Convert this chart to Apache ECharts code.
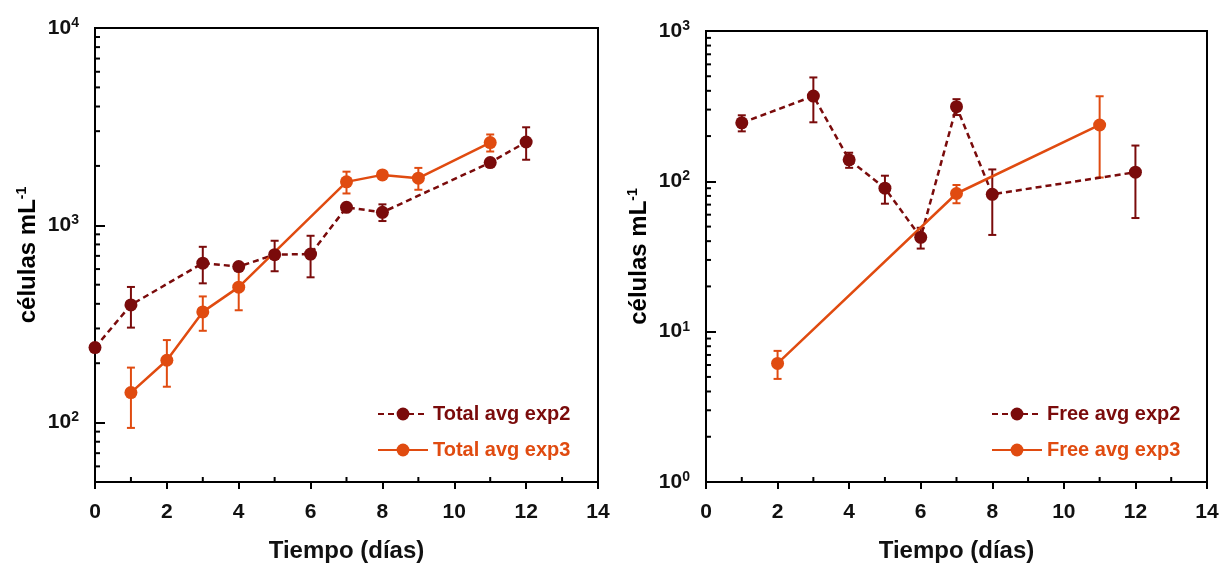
<!DOCTYPE html>
<html>
<head>
<meta charset="utf-8">
<script src="https://cdn.jsdelivr.net/npm/echarts@6/dist/echarts.min.js"></script>
<style>
  html, body { margin: 0; padding: 0; background: #fff; }
  #chart { width: 1226px; height: 570px; }
</style>
</head>
<body>
<div id="chart"></div>
<script>
// Total cell counts (left panel)
const totalDays2 = [0, 1, 3, 4, 5, 6, 7, 8, 11, 12];
const totalExp2 = [240, 395, 643, 618, 710, 715, 1233, 1164, 2080, 2644];
const totalExp2Sd = [0, 92, 135, 15, 125, 170, 30, 113, 70, 495];

const totalDays3 = [1, 2, 3, 4, 7, 8, 9, 11];
const totalExp3 = [142, 207, 364, 486, 1660, 1801, 1734, 2626];
const totalExp3Sd = [48, 55, 72, 115, 210, 40, 220, 260];

// Free cell counts (right panel)
const freeDays2 = [1, 3, 4, 5, 6, 7, 8, 12];
const freeExp2 = [245, 369, 139, 90, 42.4, 314, 82, 115];
const freeExp2Sd = [30, 122, 16, 19, 6.7, 38, 38, 58];

const freeDays3 = [2, 7, 11];
const freeExp3 = [6.15, 83, 237];
const freeExp3Sd = [1.3, 11.5, 131];

// Axis ranges and minor tick values
const xRange = [0, 14];
const xMinorTicks = [1, 3, 5, 7, 9, 11, 13];
const leftYRange = [50, 10000];
const rightYRange = [1, 1000];
const leftYMinor = [60, 70, 80, 90, 200, 300, 400, 500, 600, 700, 800, 900,
                    2000, 3000, 4000, 5000, 6000, 7000, 8000, 9000];
const rightYMinor = [2, 3, 4, 5, 6, 7, 8, 9, 20, 30, 40, 50, 60, 70, 80, 90,
                     200, 300, 400, 500, 600, 700, 800, 900];

const DARK = '#7a0b0b';
const ORANGE = '#e04b10';
const FONT = 'Liberation Sans, Arial, sans-serif';

function zip(xs, ys) { return xs.map((x, i) => [x, ys[i]]); }
function zip3(xs, ys, ss) { return xs.map((x, i) => [x, ys[i], ss[i]]); }

function errorBars(color) {
  return function (params, api) {
    const x = api.value(0), m = api.value(1), s = api.value(2);
    if (!s) return null;
    const top = api.coord([x, m + s]);
    const bot = api.coord([x, m - s]);
    const w = 4;
    const st = { stroke: color, lineWidth: 2 };
    return {
      type: 'group',
      children: [
        { type: 'line', shape: { x1: top[0], y1: top[1], x2: bot[0], y2: bot[1] }, style: st },
        { type: 'line', shape: { x1: top[0] - w, y1: top[1], x2: top[0] + w, y2: top[1] }, style: st },
        { type: 'line', shape: { x1: bot[0] - w, y1: bot[1], x2: bot[0] + w, y2: bot[1] }, style: st }
      ]
    };
  };
}

// Inward minor ticks on the log y axis and on the x axis
function minorTicks(dir, len) {
  return function (params, api) {
    const p = api.coord([api.value(0), api.value(1)]);
    const shape = dir === 'y'
      ? { x1: p[0], y1: p[1], x2: p[0] + len, y2: p[1] }
      : { x1: p[0], y1: p[1], x2: p[0], y2: p[1] - len };
    return { type: 'line', shape: shape, style: { stroke: '#000', lineWidth: 2 } };
  };
}

function xAxisDef(gridIndex) {
  return {
    type: 'value', gridIndex: gridIndex, min: xRange[0], max: xRange[1], interval: 2,
    name: 'Tiempo (días)', nameLocation: 'middle', nameGap: 57,
    nameTextStyle: { fontFamily: FONT, fontSize: 24, fontWeight: 'bold', color: '#111' },
    axisLine: { lineStyle: { color: '#000', width: 2 } },
    axisTick: { inside: false, length: 7, lineStyle: { color: '#000', width: 2 } },
    axisLabel: { fontFamily: FONT, fontSize: 21, fontWeight: 'bold', color: '#111', margin: 20 },
    splitLine: { show: false }
  };
}

function yAxisDef(gridIndex, range, gap) {
  return {
    type: 'log', logBase: 10, gridIndex: gridIndex, min: range[0], max: range[1],
    name: 'células mL{sup|-1}', nameLocation: 'middle', nameGap: gap,
    nameTextStyle: {
      fontFamily: FONT, fontSize: 24, fontWeight: 'bold', color: '#000',
      rich: { sup: { fontFamily: FONT, fontSize: 14, fontWeight: 'bold', color: '#000', verticalAlign: 'top', padding: [0, 0, 12, 0] } }
    },
    axisLine: { lineStyle: { color: '#000', width: 2 } },
    axisTick: { inside: true, length: 10, lineStyle: { color: '#000', width: 2 } },
    axisLabel: {
      fontFamily: FONT, fontSize: 21, fontWeight: 'bold', color: '#111', margin: 16,
      formatter: function (v) {
        const e = Math.log10(v);
        const r = Math.round(e);
        if (Math.abs(e - r) > 1e-6) return '';
        return '10{sup|' + r + '}';
      },
      rich: { sup: { fontFamily: FONT, fontSize: 14, fontWeight: 'bold', color: '#111', verticalAlign: 'top', padding: [0, 0, 10, 0] } }
    },
    splitLine: { show: false }
  };
}

function lineSeries(name, data, color, dashed, xi, yi) {
  return {
    name: name, type: 'line', xAxisIndex: xi, yAxisIndex: yi, data: data,
    symbol: 'circle', symbolSize: 13, z: 3,
    itemStyle: { color: color },
    lineStyle: { color: color, width: 2.5, type: dashed ? [6, 4] : 'solid' }
  };
}

function errSeries(data, color, xi, yi) {
  return {
    type: 'custom', xAxisIndex: xi, yAxisIndex: yi, data: data, z: 2,
    renderItem: errorBars(color), silent: true
  };
}

function tickSeries(data, dir, len, xi, yi) {
  return {
    type: 'custom', xAxisIndex: xi, yAxisIndex: yi, data: data, z: 4,
    renderItem: minorTicks(dir, len), silent: true, clip: false
  };
}

const legendText = { fontFamily: FONT, fontSize: 20, fontWeight: 'bold' };

const option = {
  animation: false,
  backgroundColor: '#fff',
  grid: [
    { left: 95, right: 628, top: 28, bottom: 88, show: true, borderColor: '#000', borderWidth: 2 },
    { left: 706, right: 19, top: 31, bottom: 88, show: true, borderColor: '#000', borderWidth: 2 }
  ],
  xAxis: [xAxisDef(0), xAxisDef(1)],
  yAxis: [yAxisDef(0, leftYRange, 54), yAxisDef(1, rightYRange, 54)],
  legend: [
    {
      left: 377, top: 404, padding: 0, orient: 'vertical', itemWidth: 50, itemHeight: 16, itemGap: 16,
      textStyle: legendText,
      data: [
        { name: 'Total avg exp2', textStyle: { color: DARK } },
        { name: 'Total avg exp3', textStyle: { color: ORANGE } }
      ]
    },
    {
      left: 991, top: 404, padding: 0, orient: 'vertical', itemWidth: 50, itemHeight: 16, itemGap: 16,
      textStyle: legendText,
      data: [
        { name: 'Free avg exp2', textStyle: { color: DARK } },
        { name: 'Free avg exp3', textStyle: { color: ORANGE } }
      ]
    }
  ],
  series: [
    errSeries(zip3(totalDays2, totalExp2, totalExp2Sd), DARK, 0, 0),
    errSeries(zip3(totalDays3, totalExp3, totalExp3Sd), ORANGE, 0, 0),
    lineSeries('Total avg exp2', zip(totalDays2, totalExp2), DARK, true, 0, 0),
    lineSeries('Total avg exp3', zip(totalDays3, totalExp3), ORANGE, false, 0, 0),

    errSeries(zip3(freeDays2, freeExp2, freeExp2Sd), DARK, 1, 1),
    errSeries(zip3(freeDays3, freeExp3, freeExp3Sd), ORANGE, 1, 1),
    lineSeries('Free avg exp2', zip(freeDays2, freeExp2), DARK, true, 1, 1),
    lineSeries('Free avg exp3', zip(freeDays3, freeExp3), ORANGE, false, 1, 1),

    tickSeries(leftYMinor.map(v => [xRange[0], v]), 'y', 5, 0, 0),
    tickSeries(xMinorTicks.map(v => [v, leftYRange[0]]), 'x', 5, 0, 0),
    tickSeries(rightYMinor.map(v => [xRange[0], v]), 'y', 5, 1, 1),
    tickSeries(xMinorTicks.map(v => [v, rightYRange[0]]), 'x', 5, 1, 1)
  ]
};

const chart = echarts.init(document.getElementById('chart'), null, { renderer: 'canvas' });
chart.setOption(option);
</script>
</body>
</html>
